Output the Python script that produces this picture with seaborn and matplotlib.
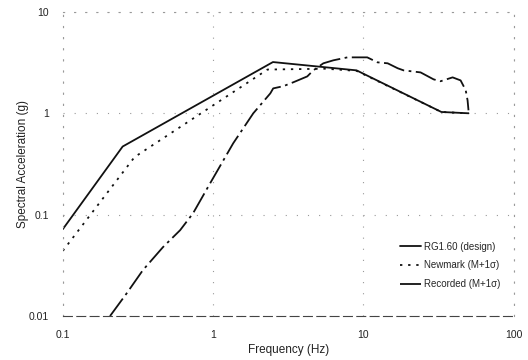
import numpy as np
import pandas as pd
import matplotlib
matplotlib.use("Agg")
import matplotlib.pyplot as plt
import seaborn as sns

# ---- data ----
design_f = [0.1, 0.25, 2.5, 9.0, 33.0, 50.0]
design_sa = [0.072, 0.47, 3.2, 2.65, 1.03, 1.0]

newmark_f = [0.1, 0.30, 2.3, 5.6, 9.0, 33.0, 50.0]
newmark_sa = [0.044, 0.37, 2.7, 2.75, 2.62, 1.03, 1.0]

recorded_f = [0.206, 0.267, 0.341, 0.464, 0.603, 0.736, 0.955, 1.36, 1.85, 2.40,
              2.51, 2.93, 3.41, 4.23, 4.64, 5.41, 6.31, 7.82, 9.12, 10.6,
              12.4, 14.5, 16.9, 18.5, 24.0, 29.3, 32.6, 39.2, 44.3, 47.9, 49.3, 50.0]
recorded_sa = [0.010, 0.0169, 0.0284, 0.0479, 0.0703, 0.1035, 0.204, 0.506, 1.0, 1.57,
               1.76, 1.85, 2.02, 2.31, 2.65, 3.11, 3.33, 3.56, 3.56, 3.56,
               3.18, 3.11, 2.78, 2.65, 2.53, 2.16, 2.07, 2.26, 2.11, 1.69, 1.34, 1.07]

series_names = ["RG1.60 (design)", "Newmark (M+1\u03c3)", "Recorded (M+1\u03c3)"]
x_ticks = [0.1, 1, 10, 100]
x_tick_labels = ["0.1", "1", "10", "100"]
y_ticks = [0.01, 0.1, 1, 10]
y_tick_labels = ["0.01", "0.1", "1", "10"]

df = pd.concat([
    pd.DataFrame({"f": design_f, "sa": design_sa, "series": series_names[0]}),
    pd.DataFrame({"f": newmark_f, "sa": newmark_sa, "series": series_names[1]}),
    pd.DataFrame({"f": recorded_f, "sa": recorded_sa, "series": series_names[2]}),
], ignore_index=True)

sns.set_style("white")
plt.rcParams["font.family"] = ["Liberation Sans", "DejaVu Sans"]

fig = plt.figure(figsize=(5.28, 3.6), dpi=100)
ax = fig.add_axes([0.119, 0.122, 0.854, 0.845])

for name in series_names:
    sub = df[df["series"] == name]
    sns.lineplot(data=sub, x="f", y="sa", ax=ax, color="#111111", lw=1.3,
                 label=name, sort=False, estimator=None)
lines = ax.get_lines()
lines[1].set_dashes((1.3, 3.2))
lines[2].set_dashes((12, 2.5, 1.5, 2.5))

ax.set_xscale("log")
ax.set_yscale("log")
ax.set_xlim(0.1, 100)
ax.set_ylim(0.01, 10)
ax.set_xticks(x_ticks)
ax.set_xticklabels(x_tick_labels)
ax.set_yticks(y_ticks)
ax.set_yticklabels(y_tick_labels)
ax.minorticks_off()
ax.tick_params(axis="both", length=0, labelsize=7.5, colors="#222222", pad=10)

ax.grid(True, which="major", color="#999999", linestyle=(0, (1, 9)), lw=0.8)
for s in ["top", "right", "left"]:
    ax.spines[s].set_linestyle((0, (1, 9)))
    ax.spines[s].set_color("#999999")
    ax.spines[s].set_linewidth(0.8)
ax.spines["bottom"].set_linestyle((0, (8, 4)))
ax.spines["bottom"].set_color("#444444")
ax.spines["bottom"].set_linewidth(0.8)

ax.set_xlabel("Frequency (Hz)", fontsize=8.5, color="#222222", labelpad=3)
ax.set_ylabel("Spectral Acceleration (g)", fontsize=8.5, color="#222222", labelpad=0)

leg = ax.legend(loc="lower right", bbox_to_anchor=(0.99, 0.06), frameon=False,
                fontsize=7, handlelength=2.2, handletextpad=0.3, labelspacing=0.9)

fig.savefig("out.png", dpi=100)
